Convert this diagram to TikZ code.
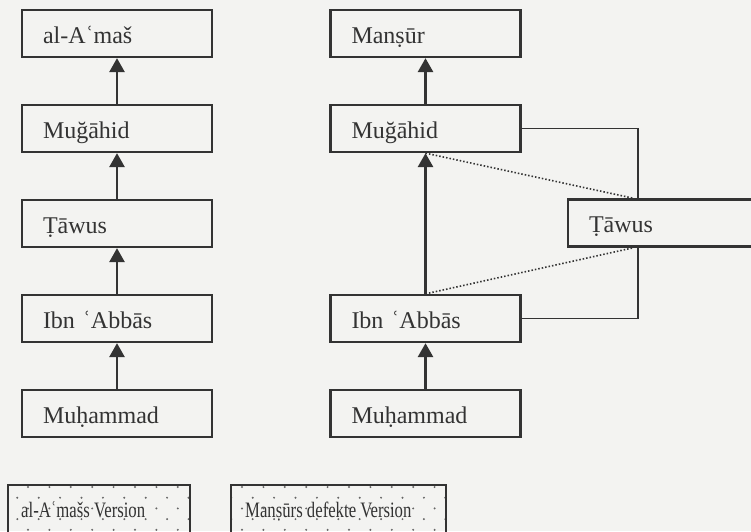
\documentclass[tikz,border=0pt]{standalone}
\usepackage{fontspec}
\setmainfont{Liberation Serif}
\usetikzlibrary{arrows.meta,calc}
\definecolor{bg}{HTML}{F3F3F1}
\definecolor{ink}{HTML}{333333}
\definecolor{dotc}{HTML}{666666}
\begin{document}
\begin{tikzpicture}[x=1pt,y=-1pt,
  box/.style={draw=ink, line width=2.3pt, minimum width=190pt, minimum height=47pt,
    text width=148pt, align=left, inner xsep=21pt, inner ysep=0pt,
    text height=24pt, text depth=4.4pt, text=ink, font=\fontsize{24}{28}\selectfont},
  arr/.style={draw=ink, line width=2.8pt, -{Triangle[width=15pt,length=14pt]}},
  link/.style={draw=ink, line width=1.8pt},
  dotl/.style={draw=ink, line width=1.6pt, dash pattern=on 1.5pt off 2pt},
  legbox/.style={draw=ink, line width=2.3pt, anchor=north west, inner sep=0pt},
  legtext/.style={anchor=base west, inner sep=0pt, text=ink, font=\fontsize{22}{26}\selectfont}
]
\fill[bg] (0,0) rectangle (751,531);
\clip (0,0) rectangle (751,531);

% dotted legend background
\begin{scope}
  \clip (7,484) rectangle (189,570) (230,484) rectangle (445,570);
  \foreach \r in {0,...,8}{
    \foreach \c in {0,...,22}{
      \fill[dotc] ({6.6+21.4*\c+10.7*mod(\r,2)},{487+10.7*\r}) circle (1.1pt);
    }
  }
\end{scope}

% left chain
\node[box] (la) at (117,33.5) {al-Aʿmaš};
\node[box] (lm) at (117,128.5) {Muğāhid};
\node[box] (lt) at (117,223.5) {Ṭāwus};
\node[box] (li) at (117,318.5) {Ibn ʿAbbās};
\node[box] (lh) at (117,413.5) {Muḥammad};
\draw[arr] (lm.north) -- (la.south);
\draw[arr] (lt.north) -- (lm.south);
\draw[arr] (li.north) -- (lt.south);
\draw[arr] (lh.north) -- (li.south);

% right chain
\node[box] (rm) at (425.5,33.5) {Manṣūr};
\node[box] (rg) at (425.5,128.5) {Muğāhid};
\node[box] (ri) at (425.5,318.5) {Ibn ʿAbbās};
\node[box] (rh) at (425.5,413.5) {Muḥammad};
\node[box, minimum width=192pt, text width=150pt] (rt) at (664,223) {Ṭāwus};
\draw[arr] (rg.north) -- (rm.south);
\draw[arr] (ri.north) -- (rg.south);
\draw[arr] (rh.north) -- (ri.south);

\coordinate (tn) at ($(rt.north west)+(71,0)$);
\coordinate (ts) at ($(rt.south west)+(71,0)$);
\coordinate (tdn) at ($(rt.north west)+(67,0)$);
\coordinate (tds) at ($(rt.south west)+(67,0)$);
\draw[link] (rg.east) -| (tn);
\draw[link] (ri.east) -| (ts);
\draw[dotl] (rg.south) -- (tdn);
\draw[dotl] (ri.north) -- (tds);

% legend
\node[legbox, minimum width=182pt, minimum height=86pt] (lg1) at (7,484) {};
\node[legbox, minimum width=215pt, minimum height=86pt] (lg2) at (230,484) {};
\node[legtext] (lg1t) at (21,517) {\scalebox{0.76}[1]{al-Aʿmašs Version}};
\node[legtext] (lg2t) at (245,517) {\scalebox{0.76}[1]{Manṣūrs defekte Version}};
\end{tikzpicture}
\end{document}
